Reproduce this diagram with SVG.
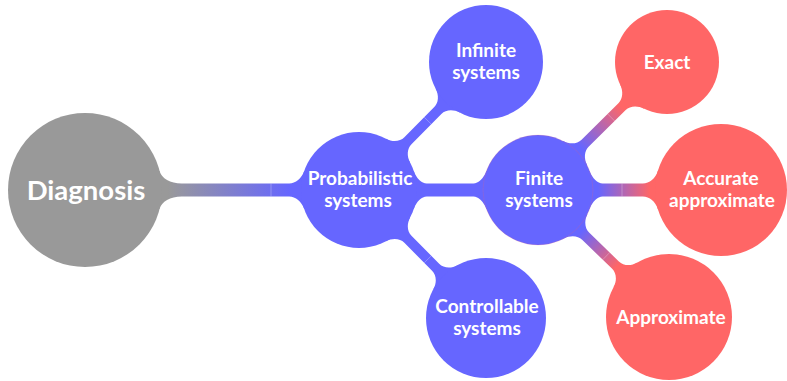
<svg xmlns="http://www.w3.org/2000/svg" width="787" height="381" viewBox="0 0 787 381">
  <style>
    .t { font-family: Lato, "Noto Sans", "DejaVu Sans", sans-serif; font-weight: 700; fill: #ffffff; text-anchor: middle; font-size: 19px; }
    .root { font-size: 27.5px; }
    .gray { fill: #999999; }
    .blue { fill: #6666ff; }
    .red { fill: #ff6666; }
    .seam { stroke: #ffffff; stroke-opacity: 0.45; stroke-width: 0.6; fill: none; }
  </style>
  <defs>
    <linearGradient id="gDiagProb" gradientUnits="userSpaceOnUse" x1="168" y1="190" x2="290" y2="190">
      <stop offset="0" stop-color="#999999"/>
      <stop offset="1" stop-color="#6666ff"/>
    </linearGradient>
    <linearGradient id="gFinExact" gradientUnits="userSpaceOnUse" x1="580.6" y1="147.7" x2="621.8" y2="106.9">
      <stop offset="0" stop-color="#6666ff"/>
      <stop offset="1" stop-color="#ff6666"/>
    </linearGradient>
    <linearGradient id="gFinAcc" gradientUnits="userSpaceOnUse" x1="598" y1="190" x2="650" y2="190">
      <stop offset="0" stop-color="#6666ff"/>
      <stop offset="1" stop-color="#ff6666"/>
    </linearGradient>
    <linearGradient id="gFinApprox" gradientUnits="userSpaceOnUse" x1="581.1" y1="231.8" x2="617.0" y2="266.6">
      <stop offset="0" stop-color="#6666ff"/>
      <stop offset="1" stop-color="#ff6666"/>
    </linearGradient>
  </defs>

  <!-- connection bars between concepts -->
  <g id="connectors">
    <path fill="url(#gDiagProb)" d="M 159.6,171 C 161.5,178.5 170.3,183.5 181.6,183.5 L 289.2,183.5 C 295.6,183.5 301.6,178.5 304.2,171 L 359,190 L 304.2,209 C 301.6,201.5 295.6,196.5 289.2,196.5 L 181.6,196.5 C 170.3,196.5 161.5,201.5 159.6,209 L 85,190 Z"/>
    <path class="blue" d="M 413.8,171 C 416.4,178.5 421.6,183.5 426.8,183.5 L 473.4,183.5 C 478.4,183.5 483.6,178.5 486.4,171 L 538,190 L 486.4,209 C 483.6,201.5 478.4,196.5 473.4,196.5 L 426.8,196.5 C 421.6,196.5 416.4,201.5 413.8,209 L 359,190 Z"/>
    <path class="blue" d="M 410.13,162.61 C 406.58,155.97 407.11,148.61 411.47,144.22 L 441.37,114.09 C 445.70,109.72 453.05,109.13 459.75,112.60 L 486,62 L 435.61,88.66 C 439.13,95.33 438.60,102.68 434.27,107.05 L 404.37,137.18 C 400.01,141.57 392.66,142.17 385.99,138.67 L 359,190 Z"/>
    <path class="blue" d="M 410.13,217.39 C 406.58,224.03 407.11,231.39 411.47,235.78 L 439.16,263.69 C 443.58,268.14 450.93,268.74 457.54,265.18 L 486,318 L 433.40,289.12 C 437.01,282.54 436.48,275.18 432.06,270.73 L 404.37,242.82 C 400.01,238.43 392.66,237.83 385.99,241.33 L 359,190 Z"/>
    <path fill="url(#gFinExact)" d="M 587.12,165.22 C 583.70,158.46 584.29,151.11 588.60,146.84 L 625.69,110.03 C 629.89,105.87 637.25,105.33 644.09,108.69 L 667,62 L 620.13,84.55 C 623.45,91.41 622.85,98.77 618.65,102.93 L 581.56,139.74 C 577.25,144.01 569.90,144.54 563.16,141.08 L 538,190 Z"/>
    <path fill="url(#gFinAcc)" d="M 589.6,171 C 592.4,178.5 597.6,183.5 602.6,183.5 L 642.79,183.5 C 649.53,183.5 655.53,178.5 657.79,171 L 721,190 L 657.79,209 C 655.53,201.5 649.53,196.5 642.79,196.5 L 602.6,196.5 C 597.6,196.5 592.4,201.5 589.6,209 L 538,190 Z"/>
    <path fill="url(#gFinApprox)" d="M 587.39,214.20 C 584.06,221.00 584.74,228.35 589.09,232.56 L 618.88,261.44 C 623.46,265.88 630.82,266.33 637.28,262.57 L 669,317 L 613.62,286.99 C 617.18,280.41 616.50,273.06 611.92,268.62 L 582.13,239.74 C 577.78,235.53 570.42,235.08 563.73,238.62 L 538,190 Z"/>
    <!-- hairline joints where each bar meets its child bulge -->
    <line class="seam" x1="271" y1="183.5" x2="271" y2="196.5"/>
    <line class="seam" x1="431.3" y1="124.23" x2="424.2" y2="117.19"/>
    <line class="seam" x1="431.3" y1="255.77" x2="424.2" y2="262.81"/>
    <line class="seam" x1="614.65" y1="120.99" x2="607.61" y2="113.89"/>
    <line class="seam" x1="622" y1="183.5" x2="622" y2="196.5"/>
    <line class="seam" x1="609.69" y1="252.53" x2="602.73" y2="259.71"/>
  </g>

  <g id="diagnosis">
    <circle class="gray" cx="85" cy="190" r="77"/>
    <text class="t root" x="86" y="199.5">Diagnosis</text>
  </g>

  <g id="probabilistic">
    <circle class="blue" cx="359" cy="190" r="58"/>
    <text class="t" x="360" y="184.5">Probabilistic</text>
    <text class="t" x="358" y="207">systems</text>
  </g>

  <g id="infinite">
    <circle class="blue" cx="486" cy="62" r="57"/>
    <text class="t" x="486" y="56.5">Infinite</text>
    <text class="t" x="486" y="79">systems</text>
  </g>

  <g id="controllable">
    <circle class="blue" cx="486" cy="318" r="60"/>
    <text class="t" x="487" y="312.5">Controllable</text>
    <text class="t" x="487" y="335">systems</text>
  </g>

  <g id="finite">
    <circle class="blue" cx="538" cy="190" r="55" stroke="#ff6666" stroke-opacity="0.3" stroke-width="0.6"/>
    <text class="t" x="539" y="184.5">Finite</text>
    <text class="t" x="539" y="207">systems</text>
  </g>

  <g id="exact">
    <circle class="red" cx="667" cy="62" r="52"/>
    <text class="t" x="667" y="69">Exact</text>
  </g>

  <g id="accurate">
    <circle class="red" cx="721" cy="190" r="66"/>
    <text class="t" x="721" y="184.5">Accurate</text>
    <text class="t" x="722" y="207">approximate</text>
  </g>

  <g id="approximate">
    <circle class="red" cx="669" cy="317" r="63"/>
    <text class="t" x="671" y="324">Approximate</text>
  </g>
</svg>
